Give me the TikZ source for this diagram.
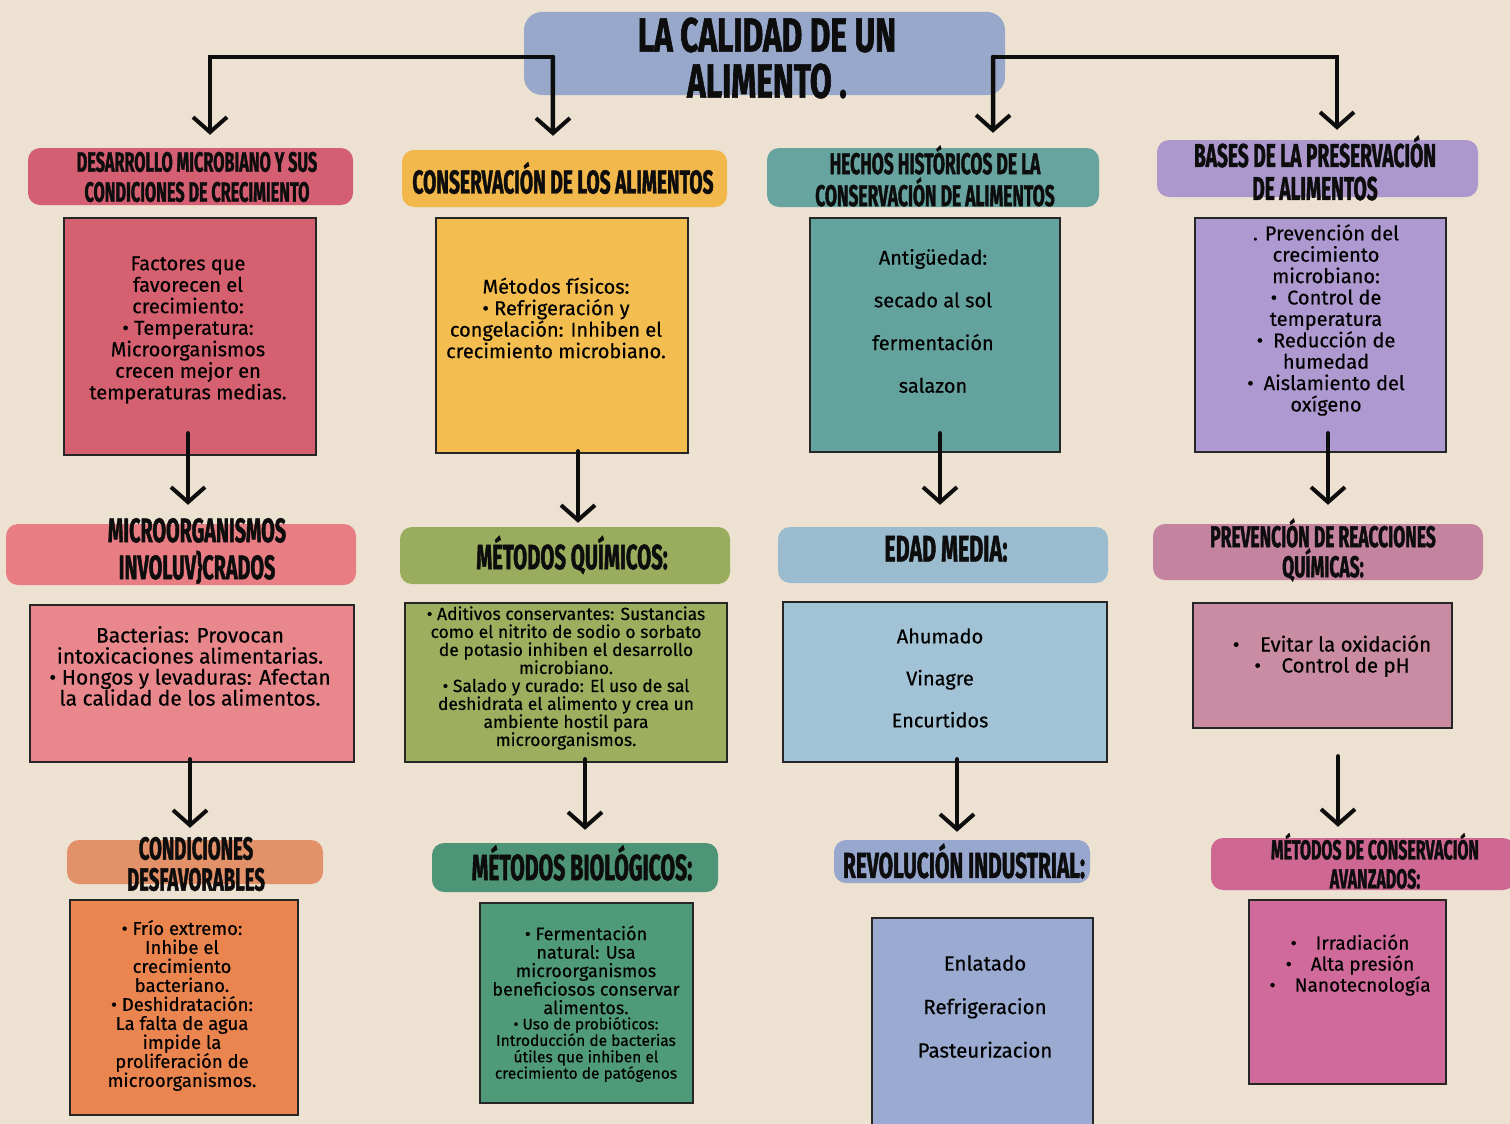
\documentclass[tikz,border=0pt]{standalone}
\usepackage{fontspec}
\setmainfont{Fira Sans}[FakeBold=0.35]
\newfontfamily\hf{Fira Sans}[FakeStretch=0.58, BoldFeatures={FakeBold=1.2}]
\newfontfamily\tf{Fira Sans}[FakeStretch=0.66, BoldFeatures={FakeBold=1.3}]
\usetikzlibrary{arrows.meta}
\newcommand{\fsz}[2]{\fontsize{#1}{#2}\selectfont}
\definecolor{bg}{HTML}{EDE1D2}
\definecolor{cT}{HTML}{97A8CB}
\definecolor{hA}{HTML}{D45F72}\definecolor{bA}{HTML}{D5606F}
\definecolor{hB}{HTML}{F2B84B}\definecolor{bB}{HTML}{F3BD4F}
\definecolor{hC}{HTML}{67A4A0}\definecolor{bC}{HTML}{64A29D}
\definecolor{hD}{HTML}{AD98CE}\definecolor{bD}{HTML}{AE99D1}
\definecolor{hE}{HTML}{E87E84}\definecolor{bE}{HTML}{E9888C}
\definecolor{hF}{HTML}{9AAC5E}\definecolor{bF}{HTML}{9DAE5E}
\definecolor{hG}{HTML}{9BBCCF}\definecolor{bG}{HTML}{A2C3D6}
\definecolor{hH}{HTML}{C4849F}\definecolor{bH}{HTML}{C98CA3}
\definecolor{hI}{HTML}{E29169}\definecolor{bI}{HTML}{EA854F}
\definecolor{hJ}{HTML}{4E9476}\definecolor{bJ}{HTML}{4F9A78}
\definecolor{hK}{HTML}{97A7CD}\definecolor{bK}{HTML}{9AAAD0}
\definecolor{hL}{HTML}{CE6893}\definecolor{bL}{HTML}{D06A9A}
\tikzset{
  bx/.style={draw=black!85, line width=2.6pt, inner sep=0pt},
  hd/.style={rounded corners=12pt, inner sep=0pt, draw=none},
  txt/.style={align=center, inner sep=0pt, text=black},
  htxt/.style={align=center, inner sep=0pt, text=black!95},
  arr/.style={line width=4.5pt, line cap=round, draw=black!95,
    -{Straight Barb[length=15pt,width=34pt,line width=4pt]}},
}
\begin{document}
\begin{tikzpicture}[x=1pt,y=-1pt]
\fill[bg] (0,0) rectangle (1510,1124);
\useasboundingbox (0,0) rectangle (1510,1124);

% title
\node[hd, fill=cT, minimum width=481pt, minimum height=83pt, rounded corners=18pt] (title) at (764.5,53.5) {};
\node[htxt, font=\tf\bfseries\fsz{48}{46}] (ttitle) at (767,58) {LA CALIDAD DE UN\\ALIMENTO .};

% headings row 1
\node[hd, fill=hA, minimum width=325pt, minimum height=57pt] (h1a) at (190.5,176.5) {};
\node[hd, fill=hB, minimum width=325pt, minimum height=57pt] (h2a) at (564.5,178.5) {};
\node[hd, fill=hC, minimum width=332pt, minimum height=59pt] (h3a) at (933,177.5) {};
\node[hd, fill=hD, minimum width=321pt, minimum height=57pt] (h4a) at (1317.5,168.5) {};
\node[htxt, font=\hf\bfseries\fsz{28}{30}] (th1a) at (197,177) {DESARROLLO MICROBIANO Y SUS\\CONDICIONES DE CRECIMIENTO};
\node[htxt, font=\hf\bfseries\fsz{33}{34}] (th2a) at (563,178) {CONSERVACIÓN DE LOS ALIMENTOS};
\node[htxt, font=\hf\bfseries\fsz{30}{32}] (th3a) at (935,176) {HECHOS HISTÓRICOS DE LA\\CONSERVACIÓN DE ALIMENTOS};
\node[htxt, font=\hf\bfseries\fsz{33}{33}] (th4a) at (1315,168) {BASES DE LA PRESERVACIÓN\\DE ALIMENTOS};

% boxes row 1
\node[bx, fill=bA, minimum width=252pt, minimum height=237pt] (b1a) at (190,336.5) {};
\node[bx, fill=bB, minimum width=252pt, minimum height=235pt] (b2a) at (562,335.5) {};
\node[bx, fill=bC, minimum width=250pt, minimum height=234pt] (b3a) at (935,335) {};
\node[bx, fill=bD, minimum width=251pt, minimum height=234pt] (b4a) at (1320.5,335) {};
\node[txt, font=\fsz{20}{21.5}] (t1a) at (188,330) {Factores que\\favorecen el\\crecimiento:\\• Temperatura:\\Microorganismos\\crecen mejor en\\temperaturas medias.};
\node[txt, font=\fsz{20}{21.5}] (t2a) at (556,318) {Métodos físicos:\\• Refrigeración y\\congelación: Inhiben el\\crecimiento microbiano.};
\node[txt, font=\fsz{20}{42.7}] (t3a) at (933,321) {Antigüedad:\\secado al sol\\fermentación\\salazon};
\node[txt, font=\fsz{20}{21.4}] (t4a) at (1326,320) {. Prevención del\\crecimiento\\microbiano:\\•\enspace Control de\\temperatura\\•\enspace Reducción de\\humedad\\•\enspace Aislamiento del\\oxígeno};

% headings row 2
\node[hd, fill=hE, minimum width=350pt, minimum height=61pt] (h1b) at (181,554.5) {};
\node[hd, fill=hF, minimum width=330pt, minimum height=57pt] (h2b) at (565,555.5) {};
\node[hd, fill=hG, minimum width=330pt, minimum height=56pt] (h3b) at (943,555) {};
\node[hd, fill=hH, minimum width=330pt, minimum height=56pt] (h4b) at (1318,552) {};
\node[htxt, font=\hf\bfseries\fsz{34}{37}] (th1b) at (197,551) {MICROORGANISMOS\\INVOLUV\}CRADOS};
\node[htxt, font=\hf\bfseries\fsz{35}{35}] (th2b) at (572,555) {MÉTODOS QUÍMICOS:};
\node[htxt, font=\hf\bfseries\fsz{37}{37}] (th3b) at (946,549) {EDAD MEDIA:};
\node[htxt, font=\hf\bfseries\fsz{30}{30}] (th4b) at (1323,550) {PREVENCIÓN DE REACCIONES\\QUÍMICAS:};

% boxes row 2
\node[bx, fill=bE, minimum width=324pt, minimum height=157pt] (b1b) at (192,683.5) {};
\node[bx, fill=bF, minimum width=322pt, minimum height=159pt] (b2b) at (566,682.5) {};
\node[bx, fill=bG, minimum width=324pt, minimum height=160pt] (b3b) at (945,682) {};
\node[bx, fill=bH, minimum width=259pt, minimum height=125pt] (b4b) at (1322.5,665.5) {};
\node[txt, font=\fsz{21}{21}] (t1b) at (190,666) {Bacterias: Provocan\\intoxicaciones alimentarias.\\• Hongos y levaduras: Afectan\\la calidad de los alimentos.};
\node[txt, font=\fsz{17.5}{18}] (t2b) at (566,678) {• Aditivos conservantes: Sustancias\\como el nitrito de sodio o sorbato\\de potasio inhiben el desarrollo\\microbiano.\\• Salado y curado: El uso de sal\\deshidrata el alimento y crea un\\ambiente hostil para\\microorganismos.};
\node[txt, font=\fsz{20}{42}] (t3b) at (940,678) {Ahumado\\Vinagre\\Encurtidos};
\node[txt, font=\fsz{20.5}{21}] (t4b) at (1332,656) {•\quad Evitar la oxidación\\•\quad Control de pH};

% headings row 3
\node[hd, fill=hI, minimum width=256pt, minimum height=44pt] (h1c) at (195,862) {};
\node[hd, fill=hJ, minimum width=286pt, minimum height=49pt] (h2c) at (575,867.5) {};
\node[hd, fill=hK, minimum width=256pt, minimum height=43pt] (h3c) at (962,861.5) {};
\node[hd, fill=hL, minimum width=304pt, minimum height=52pt] (h4c) at (1363,864) {};
\node[htxt, font=\hf\bfseries\fsz{32}{31}] (th1c) at (196,864) {CONDICIONES\\DESFAVORABLES};
\node[htxt, font=\hf\bfseries\fsz{36.5}{35}] (th2c) at (582,863) {MÉTODOS BIOLÓGICOS:};
\node[htxt, font=\hf\bfseries\fsz{36}{36}] (th3c) at (964,861) {REVOLUCIÓN INDUSTRIAL:};
\node[htxt, font=\hf\bfseries\fsz{27.5}{29}] (th4c) at (1375,861) {MÉTODOS DE CONSERVACIÓN\\AVANZADOS:};

% boxes row 3
\node[bx, fill=bI, minimum width=228pt, minimum height=215pt] (b1c) at (184,1007.5) {};
\node[bx, fill=bJ, minimum width=213pt, minimum height=200pt] (b2c) at (586.5,1003) {};
\node[bx, fill=bK, minimum width=221pt, minimum height=217pt] (b3c) at (982.5,1026.5) {};
\node[bx, fill=bL, minimum width=197pt, minimum height=184pt] (b4c) at (1347.5,992) {};
\node[txt, font=\fsz{18.5}{19}] (t1c) at (182,1005.5) {• Frío extremo:\\Inhibe el\\crecimiento\\bacteriano.\\• Deshidratación:\\La falta de agua\\impide la\\proliferación de\\microorganismos.};
\node[txt, font=\fsz{18}{18.5}] (t2c) at (586,970) {• Fermentación\\natural: Usa\\microorganismos\\beneficiosos conservar\\alimentos.};
\node[txt, font=\fsz{15.5}{16.4}] (t2d) at (586,1049.5) {• Uso de probióticos:\\Introducción de bacterias\\útiles que inhiben el\\crecimiento de patógenos};
\node[txt, font=\fsz{20.5}{43.5}] (t3c) at (985,1006.5) {Enlatado\\Refrigeracion\\Pasteurizacion};
\node[txt, font=\fsz{19}{21}] (t4c) at (1350,965) {•\quad Irradiación\\•\quad Alta presión\\•\quad Nanotecnología};

% connectors from title
\draw[arr] ([shift={(29,3.5)}]title.west) -| ([shift={(19.5,-13)}]h1a.north);
\draw[arr] ([shift={(29,3.5)}]title.west) -- ([shift={(-11.5,-14)}]h2a.north);
\draw[arr] ([shift={(-12,3.5)}]title.east) -- ([shift={(60,-15)}]h3a.north);
\draw[arr] ([shift={(-12,3.5)}]title.east) -| ([shift={(19.5,-10)}]h4a.north);

% vertical connectors
\draw[arr] ([shift={(-2,-23)}]b1a.south) -- ([shift={(7,-19)}]h1b.north);
\draw[arr] ([shift={(-2,-4)}]b1b.south) -- ([shift={(-5,-12)}]h1c.north);
\draw[arr] ([shift={(16,-3)}]b2a.south) -- ([shift={(13,-4)}]h2b.north);
\draw[arr] ([shift={(19,-4)}]b2b.south) -- ([shift={(10,-13)}]h2c.north);
\draw[arr] ([shift={(5,-20)}]b3a.south) -- ([shift={(-3,-22)}]h3b.north);
\draw[arr] ([shift={(12,-4)}]b3b.south) -- ([shift={(-5,-8)}]h3c.north);
\draw[arr] ([shift={(7.5,-20)}]b4a.south) -- ([shift={(10,-19)}]h4b.north);
\draw[arr] ([shift={(15.5,27)}]b4b.south) -- ([shift={(-25,-11)}]h4c.north);
\end{tikzpicture}
\end{document}
